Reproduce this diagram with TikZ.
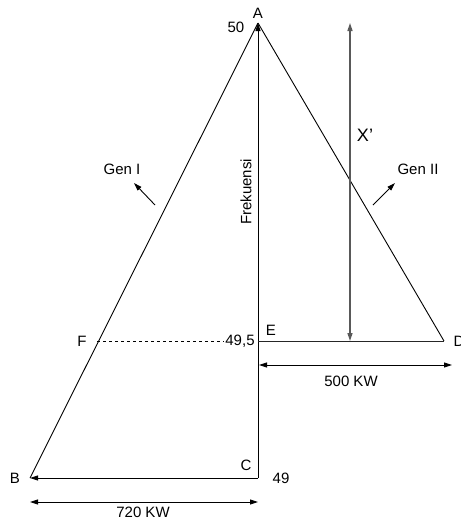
\documentclass[tikz,border=0pt]{standalone}
\usepackage{fontspec}
\setmainfont{Liberation Sans}
\usetikzlibrary{arrows.meta}

\begin{document}
\begin{tikzpicture}[x=1pt, y=-1pt, line width=0.9pt,
    font=\fontsize{15}{18}\selectfont,
    >={Triangle[length=8pt, width=5pt]},
    lbl/.style={inner sep=1pt},
    dim/.style={<->}]

    \useasboundingbox (0,0) rectangle (461,520);

    % Corner points of the two generator lines
    \coordinate (A) at (258,23);
    \coordinate (B) at (30,478);
    \coordinate (C) at (258,478);
    \coordinate (D) at (444,341);
    \coordinate (E) at (258,341);
    \coordinate (F) at (97,341);

    % Ends of the arrows for X' and the two powers
    \coordinate (Xtop) at (350,23);
    \coordinate (Xbot) at (350,341);
    \coordinate (PtwoL) at (259,365);
    \coordinate (PtwoR) at (452,365);
    \coordinate (PoneL) at (30,502);
    \coordinate (PoneR) at (258,502);

    % Labels
    \node[lbl] (lblA) at (258,13) {A};
    \node[lbl] (lbl50) at (236,27) {50};
    \node[lbl] (lblB) at (15,478) {B};
    \node[lbl] (lblC) at (246,465) {C};
    \node[lbl] (lbl49) at (281,478) {49};
    \node[lbl] (lblD) at (459,341) {D};
    \node[lbl] (lblE) at (271,330) {E};
    \node[lbl] (lblF) at (82,341) {F};
    \node[lbl] (lbl495) at (240,341) {49,5};
    \node[lbl, font=\fontsize{18}{20}\selectfont] (lblX) at (365,135) {X’};
    \node[lbl] (genI) at (122,169) {Gen I};
    \node[lbl] (genII) at (418,169) {Gen II};
    \node[lbl, rotate=90] (frek) at (246,192) {Frekuensi};
    \node[lbl] (pTwo) at (351,381) {500 KW};
    \node[lbl] (pOne) at (143,512) {720 KW};

    % Frequency axis and the base line
    \draw[->] (C) -- (A);
    \draw[->] (C) -- (B);

    % Generator characteristics
    \draw (A) -- (B);
    \draw (A) -- (D);
    \draw[gray!30!black] (E) -- (D);
    \draw[dashed, line width=0.6pt] (F) -- (lbl495.west);

    % X' and the power spans
    \draw[dim, gray!70!black, line width=1.4pt] (Xtop) -- (Xbot);
    \draw[dim] (PtwoL) -- (PtwoR);
    \draw[dim] (PoneL) -- (PoneR);

    % Pointers to the generator names
    \coordinate (gIs) at (155,205);
    \coordinate (gIe) at (134,183);
    \coordinate (gIIs) at (373,205);
    \coordinate (gIIe) at (395,183);
    \draw[->] (gIs) -- (gIe);
    \draw[->] (gIIs) -- (gIIe);

\end{tikzpicture}
\end{document}
